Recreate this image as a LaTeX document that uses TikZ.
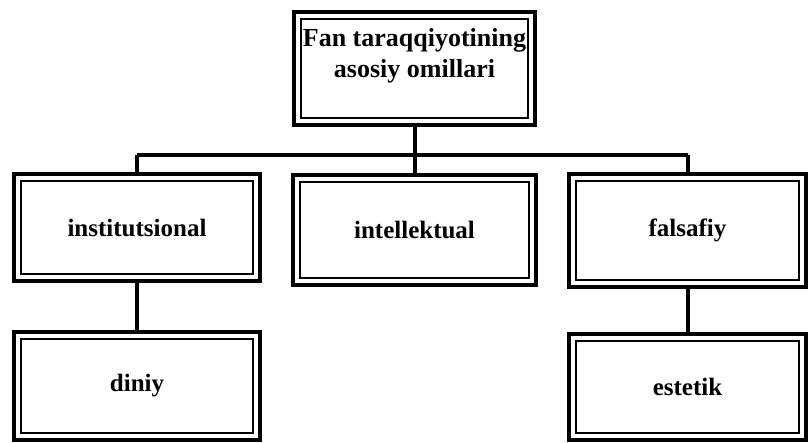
\documentclass[tikz,border=0pt]{standalone}
\usepackage{fontspec}
\setmainfont{Liberation Serif}
\begin{document}
\begin{tikzpicture}[x=0.5pt,y=-0.5pt,
  box/.style={draw, line width=2pt, inner sep=0pt,
    font=\bfseries\fontsize{12.5}{15}\selectfont,
    path picture={\draw[line width=1.2pt]
      ([shift={(3.5pt,-3.5pt)}]path picture bounding box.north west) rectangle
      ([shift={(-3.5pt,3.5pt)}]path picture bounding box.south east);}},
  link/.style={line width=2pt},
  toplabel/.style={font=\bfseries\fontsize{13}{15.5}\selectfont, align=center, inner sep=0pt}]
\useasboundingbox[fill=white] (0,0) rectangle (808,443);

\node[box, minimum width=120.5pt, minimum height=56.5pt] (top) at (414.5,68.5) {};
\node[toplabel] (toptext) at (414.5,56) {Fan taraqqiyotining\\asosiy omillari};

\node[box, minimum width=123pt, minimum height=53.5pt] (inst) at (137,227.5) {institutsional};
\node[box, minimum width=121.5pt, minimum height=55pt] (intel) at (414.5,230) {intellektual};
\node[box, minimum width=118.5pt, minimum height=56.5pt] (fals) at (687.5,230.5) {falsafiy};
\node[box, minimum width=123pt, minimum height=54pt] (din) at (137,386) {diniy};
\node[box, minimum width=118.5pt, minimum height=53pt] (est) at (687.5,387) {estetik};

\coordinate (j) at (414.5,155);
\draw[link] (top.south) -- (j);
\draw[link] (inst.north |- j) -- (fals.north |- j);
\draw[link] (inst.north |- j) -- (inst.north);
\draw[link] (j) -- (intel.north);
\draw[link] (fals.north |- j) -- (fals.north);
\draw[link] (inst.south) -- (din.north);
\draw[link] (fals.south) -- (est.north);
\end{tikzpicture}
\end{document}
